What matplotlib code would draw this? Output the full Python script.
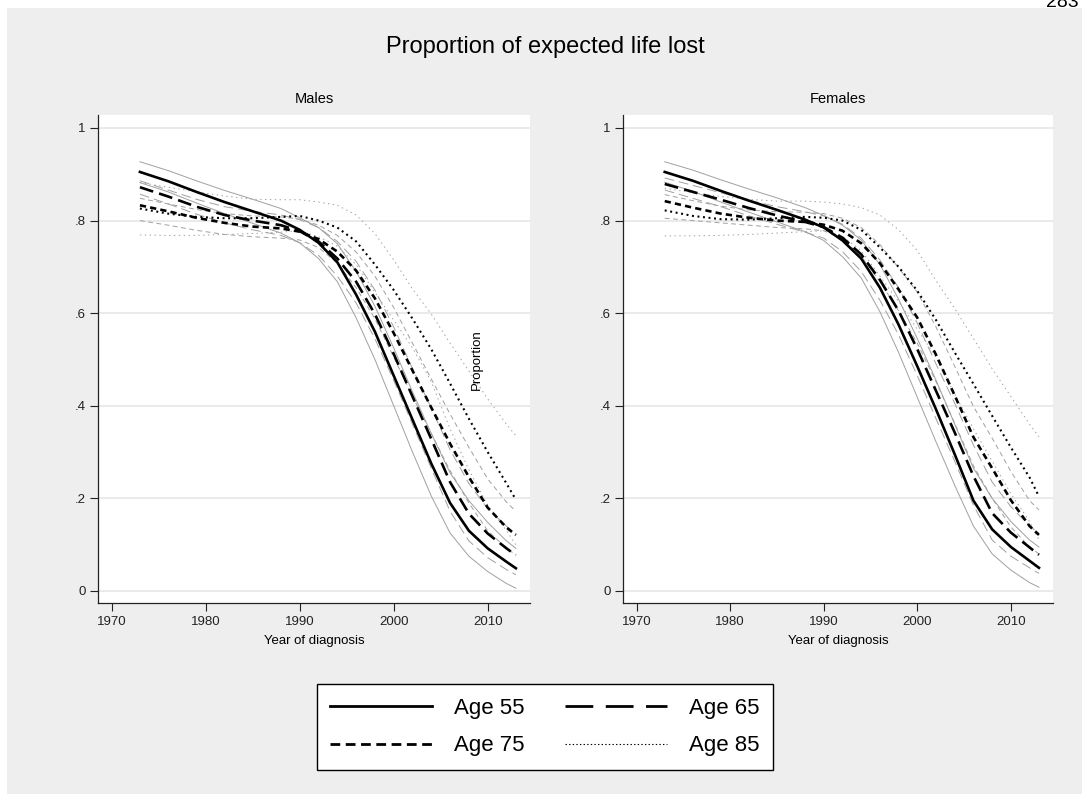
import matplotlib
matplotlib.use('Agg')
import matplotlib.pyplot as plt
from matplotlib.lines import Line2D
from matplotlib.patches import Rectangle

plt.rcParams['font.family'] = ['Liberation Sans', 'DejaVu Sans']
plt.rcParams['lines.scale_dashes'] = False

# Year of diagnosis (sample points)
years = [1973, 1976, 1979, 1982, 1985, 1988, 1990, 1992, 1994, 1996,
         1998, 2000, 2002, 2004, 2006, 2008, 2010, 2012, 2013]

ages = ['Age 55', 'Age 65', 'Age 75', 'Age 85']
x_ticks = [1970, 1980, 1990, 2000, 2010]
y_ticks = [0, 0.2, 0.4, 0.6, 0.8, 1.0]
y_tick_labels = ['0', '.2', '.4', '.6', '.8', '1']

# Males: estimate, lower and upper bounds
males_55 = [.905, .885, .862, .840, .820, .800, .780, .752, .710, .640, .560, .465, .370, .275, .190, .130, .092, .063, .049]
males_55_hi = [.927, .908, .886, .865, .846, .826, .806, .785, .750, .690, .615, .525, .430, .340, .255, .195, .148, .108, .092]
males_55_lo = [.882, .862, .838, .815, .794, .773, .752, .718, .668, .590, .500, .400, .300, .205, .125, .075, .042, .016, .006]

males_65 = [.872, .852, .830, .812, .800, .790, .777, .755, .718, .668, .598, .512, .420, .328, .235, .167, .124, .092, .077]
males_65_hi = [.886, .866, .846, .830, .820, .812, .802, .785, .755, .712, .650, .570, .480, .395, .305, .232, .178, .140, .123]
males_65_lo = [.857, .836, .814, .795, .780, .768, .752, .725, .680, .622, .545, .455, .360, .265, .172, .108, .072, .046, .035]

males_75 = [.833, .820, .806, .795, .787, .783, .776, .760, .733, .692, .632, .557, .476, .396, .318, .246, .180, .137, .121]
males_75_hi = [.848, .836, .824, .815, .810, .808, .803, .790, .768, .732, .680, .612, .535, .458, .382, .310, .242, .192, .172]
males_75_lo = [.800, .790, .779, .770, .765, .762, .758, .742, .708, .655, .588, .505, .420, .340, .260, .190, .130, .092, .078]

males_85 = [.826, .815, .808, .805, .805, .808, .810, .800, .785, .755, .705, .650, .588, .522, .448, .372, .300, .232, .197]
males_85_hi = [.882, .872, .862, .853, .846, .845, .845, .840, .833, .812, .772, .715, .652, .598, .535, .475, .415, .360, .335]
males_85_lo = [.769, .768, .768, .770, .772, .775, .778, .765, .745, .705, .645, .585, .525, .452, .350, .262, .185, .130, .100]

# Females: estimate, lower and upper bounds
females_55 = [.905, .886, .864, .843, .823, .802, .785, .757, .718, .655, .575, .485, .392, .295, .195, .133, .095, .065, .050]
females_55_hi = [.927, .909, .888, .868, .849, .828, .811, .790, .758, .705, .630, .545, .455, .360, .265, .200, .150, .110, .095]
females_55_lo = [.883, .863, .840, .818, .797, .776, .757, .722, .676, .603, .515, .418, .322, .228, .140, .080, .045, .018, .008]

females_65 = [.879, .862, .845, .827, .811, .797, .786, .763, .727, .672, .605, .522, .432, .342, .248, .168, .126, .094, .078]
females_65_hi = [.892, .876, .860, .844, .830, .819, .810, .792, .762, .715, .655, .578, .490, .405, .315, .235, .182, .140, .125]
females_65_lo = [.866, .848, .830, .810, .792, .775, .762, .733, .690, .628, .553, .465, .372, .280, .185, .110, .075, .050, .038]

females_75 = [.842, .828, .815, .806, .800, .797, .791, .778, .751, .708, .651, .590, .510, .422, .332, .265, .196, .140, .121]
females_75_hi = [.856, .843, .831, .823, .819, .818, .815, .805, .785, .748, .698, .645, .570, .485, .398, .330, .258, .195, .175]
females_75_lo = [.805, .800, .795, .790, .785, .782, .778, .760, .723, .668, .605, .535, .452, .362, .270, .200, .138, .095, .080]

females_85 = [.822, .810, .803, .802, .805, .808, .806, .800, .780, .742, .700, .648, .585, .515, .447, .378, .310, .245, .204]
females_85_hi = [.870, .860, .852, .846, .842, .842, .840, .836, .828, .812, .780, .735, .670, .610, .545, .480, .420, .360, .333]
females_85_lo = [.767, .767, .768, .770, .773, .776, .778, .766, .735, .680, .625, .565, .505, .425, .350, .280, .210, .150, .110]

panels = {
    'Males': [(males_55, males_55_lo, males_55_hi),
              (males_65, males_65_lo, males_65_hi),
              (males_75, males_75_lo, males_75_hi),
              (males_85, males_85_lo, males_85_hi)],
    'Females': [(females_55, females_55_lo, females_55_hi),
                (females_65, females_65_lo, females_65_hi),
                (females_75, females_75_lo, females_75_hi),
                (females_85, females_85_lo, females_85_hi)],
}

# line styles (dash lengths in points)
est_styles = ['-', (0, (10, 4.5)), (0, (4.5, 3)), (0, (1.4, 2.6))]
est_widths = [1.9, 1.9, 1.9, 1.5]
ci_styles = ['-', (0, (7, 3.5)), (0, (3.5, 2.5)), (0, (1, 2.5))]
legend_styles = ['-', (0, (20, 9)), (0, (7, 4)), (0, (1, 1.6))]
legend_widths = [2.0, 2.0, 2.0, 0.8]

W, H = 1082, 794
fig = plt.figure(figsize=(W / 100, H / 100), dpi=100)
fig.patch.set_facecolor('white')
fig.patches.append(Rectangle((7 / W, 0), 1 - 7 / W, 1 - 8 / H, transform=fig.transFigure,
                             facecolor='#eeeeee', edgecolor='none', zorder=-5))
# page number, cut off at the top edge as in the source image
fig.text(1046 / W, 1 - 7 / H, '283', fontsize=14, va='baseline', ha='left')

fig.text(545 / W, 1 - 47 / H, 'Proportion of expected life lost', fontsize=17,
         ha='center', va='center')

axes_px = {'Males': (98, 530), 'Females': (623, 1053)}
top_px, bottom_px = 115, 603

for name, series in panels.items():
    left_px, right_px = axes_px[name]
    ax = fig.add_axes([left_px / W, 1 - bottom_px / H, (right_px - left_px) / W,
                       (bottom_px - top_px) / H])
    ax.set_facecolor('white')
    ax.set_xlim(1968.54, 2014.5)
    ax.set_ylim(-0.026, 1.028)
    for yt in y_ticks:
        ax.axhline(yt, color='#e6e6e6', lw=1.2, zorder=0)

    for (est, lo, hi), cs in zip(series, ci_styles):
        ax.plot(years, lo, color='#a0a0a0', lw=0.7, linestyle=cs, zorder=2)
        ax.plot(years, hi, color='#a0a0a0', lw=0.7, linestyle=cs, zorder=2)
    for (est, lo, hi), es, ew in zip(series, est_styles, est_widths):
        ax.plot(years, est, color='black', lw=ew, linestyle=es, zorder=3)

    ax.set_xticks(x_ticks)
    ax.set_xticklabels([str(x) for x in x_ticks], fontsize=9.5)
    ax.set_yticks(y_ticks)
    ax.set_yticklabels(y_tick_labels, fontsize=9.5)
    ax.tick_params(axis='x', length=5.5, width=0.8, pad=4, colors='#222222')
    ax.tick_params(axis='y', length=6, width=0.8, pad=3, colors='#222222')
    for side in ['top', 'right']:
        ax.spines[side].set_visible(False)
    for side in ['left', 'bottom']:
        ax.spines[side].set_linewidth(0.9)
        ax.spines[side].set_color('#222222')

    cx = (left_px + right_px) / 2
    fig.text(cx / W, 1 - 99 / H, name, fontsize=10.5, ha='center', va='center')
    fig.text(cx / W, 1 - 641 / H, 'Year of diagnosis', fontsize=9.5, ha='center', va='center')

fig.text(477 / W, 1 - 360 / H, 'Proportion', fontsize=9.5, rotation=90,
         ha='center', va='center')

# legend is filled column by column, so order gives rows 55|65 and 75|85
order = [0, 2, 1, 3]
handles = [Line2D([0], [0], color='black', lw=legend_widths[i], linestyle=legend_styles[i])
           for i in order]
labels = [ages[i] for i in order]
leg = fig.legend(handles, labels, loc='center', bbox_to_anchor=(545 / W, 1 - 727 / H),
                 ncol=2, fontsize=16, frameon=True, fancybox=False, handlelength=4.6,
                 handletextpad=1.0, columnspacing=1.8, borderpad=0.6, labelspacing=0.75)
leg.get_frame().set_edgecolor('black')
leg.get_frame().set_linewidth(1.0)
leg.get_frame().set_facecolor('white')
leg.get_frame().set_alpha(1)

fig.savefig('out.png', dpi=100)
